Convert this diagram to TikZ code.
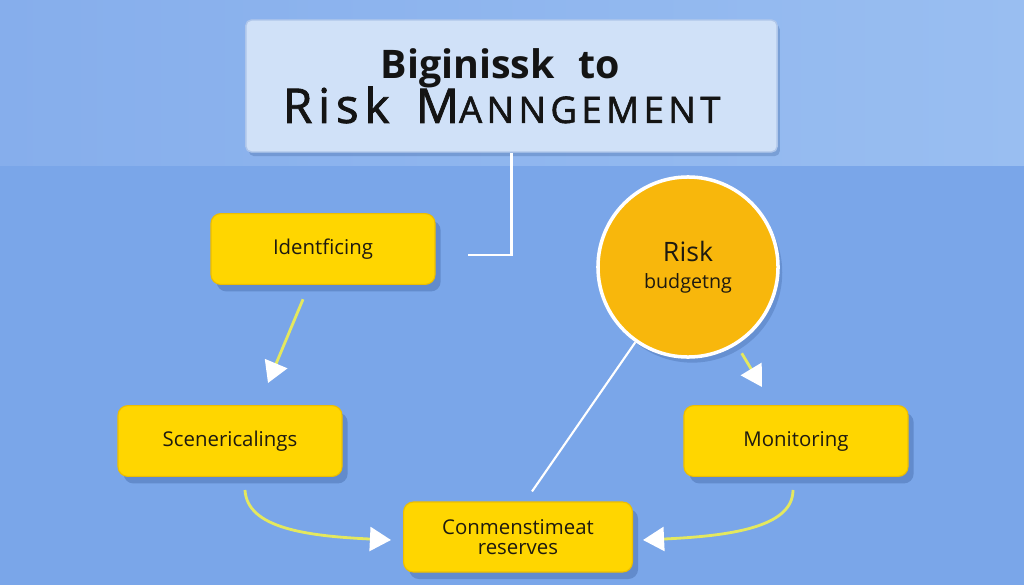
\documentclass[tikz,border=0pt]{standalone}
\usepackage{fontspec}
\setmainfont{Open Sans}
\setsansfont{Open Sans}
\newfontfamily\spacedfont[LetterSpace=12, FakeBold=1.6]{Open Sans}
\usetikzlibrary{positioning, shapes, arrows.meta, shadows, calc}

\definecolor{bgblue}{HTML}{7AA6E9}
\definecolor{bandleft}{HTML}{86AEEC}
\definecolor{bandright}{HTML}{99BEF1}
\definecolor{titlefill}{HTML}{D0E1F8}
\definecolor{titleline}{HTML}{AFC6EA}
\definecolor{boxyellow}{HTML}{FFD600}
\definecolor{boxedge}{HTML}{EDBE00}
\definecolor{circorange}{HTML}{F8B70C}
\definecolor{arrowyellow}{HTML}{E4E85E}
\definecolor{inkdark}{HTML}{1E1A10}
\definecolor{shadowblue}{HTML}{2C4F8A}

\begin{document}
\begin{tikzpicture}[x=0.025cm, y=-0.025cm, font=\sffamily]
    \tikzstyle{stepbox} = [rectangle, rounded corners=7pt, minimum width=5.6cm, minimum height=1.77cm, align=center, draw=boxedge, line width=0.8pt, fill=boxyellow, text=inkdark, font=\fontsize{14.5}{14.5}\selectfont, drop shadow={shadow xshift=4pt, shadow yshift=-5pt, opacity=0.3, fill=shadowblue}]
    \tikzstyle{flow} = [arrowyellow, line width=2pt, -{Triangle[length=15pt, width=17pt, fill=white, color=white]}]
    \tikzstyle{wire} = [white, line width=1.5pt]

    % background
    \fill[bgblue] (0,0) rectangle (1024,585);
    \shade[left color=bandleft, right color=bandright] (0,0) rectangle (1024,165);
    \useasboundingbox (0,0) rectangle (1024,585);

    % title
    \node[rectangle, rounded corners=4pt, minimum width=13.28cm, minimum height=3.3cm, align=center, draw=titleline, line width=1pt, fill=titlefill, text=black!92, drop shadow={shadow xshift=2pt, shadow yshift=-3pt, opacity=0.25, fill=shadowblue}] (title) at (511.5,86)
        {\fontsize{28}{30}\selectfont\bfseries Biginissk\hspace{0.6em}to\hspace*{16pt}\\[-2pt]
         \spacedfont\fontsize{34}{34}\selectfont Risk\hspace{0.55em}M{\fontsize{26}{34}\selectfont ANNGEMENT}\hspace*{14pt}};
    \coordinate (tend) at (468,255);
    \draw[wire] (title.south) |- (tend);

    % steps
    \node[stepbox] (ident) at (323,249) {Identficing};
    \node[stepbox] (scen) at (230,441) {Scenericalings};
    \node[stepbox, minimum width=5.72cm, minimum height=1.75cm] (conm) at (518,537) {Conmenstimeat\\reserves};
    \node[stepbox] (mon) at (796,441) {Monitoring};
    \node[circle, minimum size=4.5cm, fill=circorange, draw=white, line width=2.5pt, text=inkdark, align=center, drop shadow={shadow xshift=3pt, shadow yshift=-4pt, opacity=0.25, fill=shadowblue}] (budget) at (688,267)
        {{\fontsize{19}{20}\selectfont Risk}\\[7pt]{\fontsize{14}{16}\selectfont budgetng}};

    % connectors
    \draw[flow, shorten <=11pt] ($(ident.south)+(-14,0)$) -- ($(scen.north)+(38,-22)$);
    \draw[flow] ($(scen.south)+(15,13)$) .. controls +(2,38) and +(-85,-4) .. ($(conm.west)+(-12,3)$);
    \draw[flow] ($(mon.south)+(-3,13)$) .. controls +(0,38) and +(85,-4) .. ($(conm.east)+(10,3)$);
    \draw[flow, shorten <=7pt] (budget.-58) -- ($(mon.north)+(-34,-18)$);
    \draw[wire] (budget.-125) -- ($(conm.north)+(14,-10)$);
\end{tikzpicture}
\end{document}
